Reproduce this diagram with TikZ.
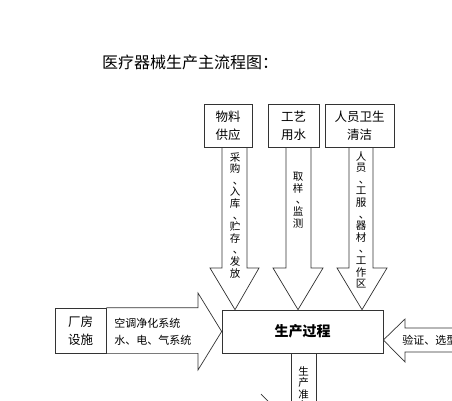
\documentclass[tikz,border=0pt]{standalone}
\usepackage{fontspec}
\setmainfont{Noto Sans CJK SC}
\newcommand{\vdun}{\hspace*{0.6em}、}
\begin{document}
\begin{tikzpicture}[
        x=1pt,
        y=-1pt,
        line width=0.7pt
    ]
    \tikzset{
        box/.style = {rectangle, draw=black!80, fill=white, inner sep=0pt, align=center, font=\fontsize{12.5}{18}\selectfont},
        vtext/.style = {anchor=north, inner sep=0pt, align=center, font=\fontsize{10.5}{11.6}\selectfont},
        htext/.style = {anchor=west, inner sep=0pt, align=left, font=\fontsize{11}{17}\selectfont},
        barrow/.style = {draw=black!80, line join=miter},
    }
    \useasboundingbox (0,0) rectangle (452,400);
    \clip (0,0) rectangle (452,400);
    \node[font=\fontsize{16}{18}\selectfont] at (190,62) (title) {医疗器械生产主流程图：};
    %
    \node[box, minimum width=48pt, minimum height=43pt] at (228,125.5) (wl) {物料\\供应};
    \node[box, minimum width=51pt, minimum height=43pt] at (293.5,125.5) (wt) {工艺\\用水};
    \node[box, minimum width=69pt, minimum height=43pt] at (359.5,125.5) (wp) {人员卫生\\清洁};
    \node[box, minimum width=161pt, minimum height=43pt, font=\fontsize{14}{18}\selectfont\bfseries] at (302.5,331.5) (proc) {生产过程};
    \node[box, minimum width=51pt, minimum height=45pt] at (80.5,330.5) (fac) {厂房\\设施};
    %
    \draw[barrow] (222,0 |- wl.south) -- (222,268) -- (210,268) -- (235,0 |- proc.north)
        -- (259,268) -- (247,268) -- (247,0 |- wl.south);
    \draw[barrow] (286,0 |- wt.south) -- (286,268) -- (273,268) -- (298,0 |- proc.north)
        -- (323,268) -- (311,268) -- (311,0 |- wt.south);
    \draw[barrow] (349,0 |- wp.south) -- (349,268) -- (337,268) -- (362,0 |- proc.north)
        -- (387,268) -- (373,268) -- (373,0 |- wp.south);
    %
    \draw[barrow] (fac.north east) -- (198,0 |- fac.north) -- (198,293) -- (proc.west)
        -- (198,370) -- (198,0 |- fac.south) -- (fac.south east);
    \draw[barrow] (470,328) -- (405,328) -- (405,319) -- (proc.east |- 0,340)
        -- (405,362) -- (405,352) -- (470,352);
    \draw[barrow] (291,0 |- proc.south) -- (291,410);
    \draw[barrow] (316,0 |- proc.south) -- (316,410);
    \draw[barrow] (261,394) -- (268,401);
    %
    \node[vtext] at (235,152) (t1) {采\\购\\\vdun\\入\\库\\\vdun\\贮\\存\\\vdun\\发\\放};
    \node[vtext] at (298,172) (t2) {取\\样\\\vdun\\监\\测};
    \node[vtext] at (361,151) (t3) {人\\员\\\vdun\\工\\服\\\vdun\\器\\材\\\vdun\\工\\作\\区};
    \node[htext] at (114,331.5) (t4) {空调净化系统\\水、电、气系统};
    \node[htext] at (402,340) (t5) {验证、选型};
    \node[vtext] at (303.5,366) (t6) {生\\产\\准\\备};
\end{tikzpicture}
\end{document}
